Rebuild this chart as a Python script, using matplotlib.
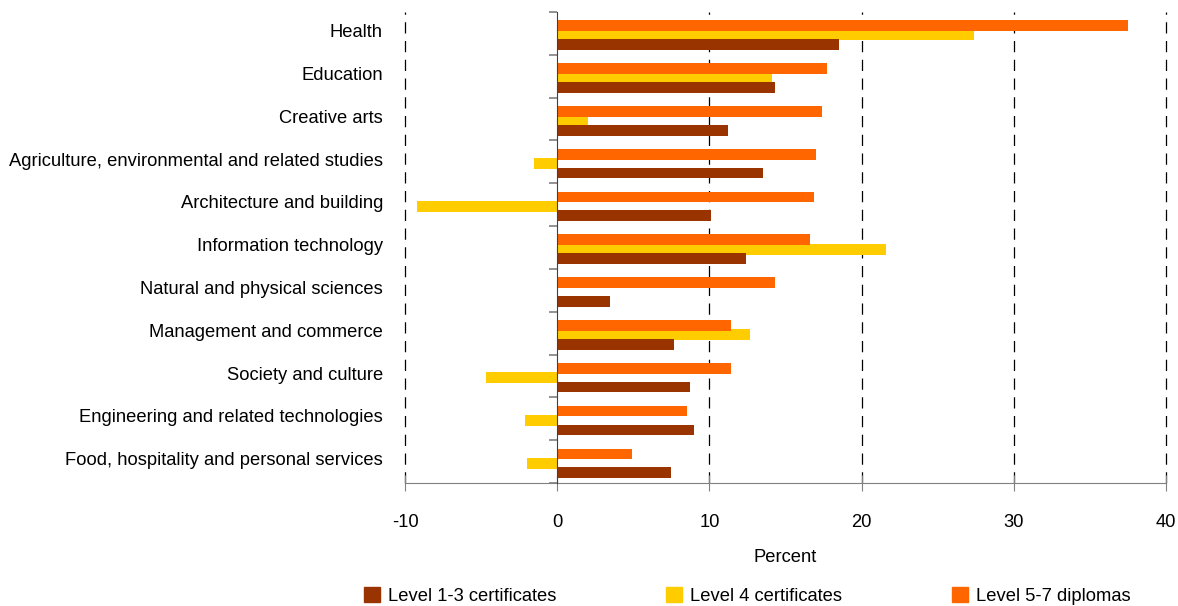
import numpy as np
import matplotlib.pyplot as plt
import matplotlib.transforms as mtransforms
from matplotlib.patches import Patch

plt.rcParams['font.family'] = ['Liberation Sans', 'DejaVu Sans']

# data
categories = ['Health', 'Education', 'Creative arts',
              'Agriculture, environmental and related studies',
              'Architecture and building', 'Information technology',
              'Natural and physical sciences', 'Management and commerce',
              'Society and culture', 'Engineering and related technologies',
              'Food, hospitality and personal services']
level_1_3 = [18.5, 14.3, 11.2, 13.5, 10.1, 12.4, 3.5, 7.7, 8.7, 9.0, 7.5]
level_4 = [27.4, 14.1, 2.0, -1.5, -9.2, 21.6, np.nan, 12.7, -4.7, -2.1, -2.0]
level_5_7 = [37.5, 17.7, 17.4, 17.0, 16.9, 16.6, 14.3, 11.4, 11.4, 8.5, 4.9]
series_names = ['Level 1-3 certificates', 'Level 4 certificates', 'Level 5-7 diplomas']
colors = ['#993300', '#FFCC00', '#FF6600']

fs = 13.2

fig = plt.figure(figsize=(11.78, 6.06), dpi=100)
ax = fig.add_axes([405 / 1178, 1 - 483 / 606, 761 / 1178, 471 / 606])

y = np.arange(len(categories)) + 0.04
h = 0.25
ax.barh(y, level_4, height=h, color=colors[1], zorder=2)
ax.barh(y - 0.22, level_5_7, height=h, color=colors[2], zorder=3)
ax.barh(y + 0.22, level_1_3, height=h, color=colors[0], zorder=3)

ax.set_xlim(-10, 40)
ax.set_ylim(len(categories) - 0.5, -0.5)

# dashed grid
for gx in [-10, 10, 20, 30, 40]:
    ax.axvline(gx, color='black', lw=0.9, ls=(0, (9, 6)), zorder=1, clip_on=False)

for s in ['top', 'right']:
    ax.spines[s].set_visible(False)
ax.spines['left'].set_position(('data', 0))
ax.spines['left'].set_color('#404040')
ax.spines['left'].set_zorder(4)
ax.spines['bottom'].set_color('#808080')

ax.set_yticks(np.arange(len(categories) + 1) - 0.5)
ax.set_yticklabels([])
ax.tick_params(axis='y', length=6, color='#808080', width=1.2)

ax.set_xticks([-10, 0, 10, 20, 30, 40])
ax.set_xticklabels(['-10', '0', '10', '20', '30', '40'])
ax.tick_params(axis='x', direction='inout', length=12, color='#808080',
               labelsize=fs, pad=16)
ax.set_xlabel('Percent', fontsize=fs, labelpad=13)

trans = mtransforms.blended_transform_factory(ax.transAxes, ax.transData)
for i, c in enumerate(categories):
    ax.text(-0.029, i - 0.02, c, transform=trans, ha='right', va='center',
            fontsize=fs)

handles = [Patch(color=c) for c in colors]
fig.legend(handles, series_names, loc='center', ncol=3, frameon=False,
           bbox_to_anchor=(747 / 1178, 1 - 596 / 606), fontsize=fs,
           handlelength=0.9, handleheight=0.9, handletextpad=0.4,
           columnspacing=6.0)

fig.savefig('out.png', dpi=100)
